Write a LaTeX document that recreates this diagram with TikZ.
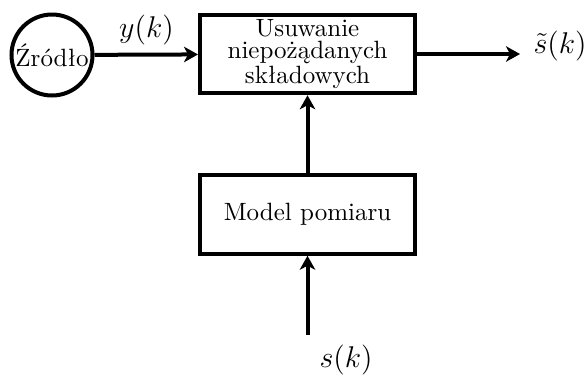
\documentclass[tikz,border=0pt]{standalone}
\usetikzlibrary{arrows.meta}
\begin{document}
\begin{tikzpicture}[x=0.4pt,y=-0.4pt,
  line width=1.6pt,
  blk/.style={draw, rectangle, minimum width=86pt, minimum height=31.4pt, inner sep=0pt, align=center, font=\fontsize{10}{9}\selectfont},
  src/.style={draw, circle, minimum size=32.4pt, inner sep=0pt},
  lbl/.style={inner sep=0pt, font=\large},
  conn/.style={-{Stealth[length=5.6pt,width=6.2pt,inset=1.6pt]}}]
\useasboundingbox (0,0) rectangle (587,375);
\node[src] (zr) at (52,55) {Źródło};
\node[blk] (us) at (307.5,54) {Usuwanie\\niepożądanych\\składowych};
\node[blk] (mp) at (307.5,214.5) {Model pomiaru};
\coordinate (out) at (520,54);
\coordinate (in) at (307.5,335);
\node[lbl] (ly) at (146.5,29.5) {$y(k)$};
\node[lbl] (ls) at (560,45.5) {$\tilde{s}(k)$};
\node[lbl] (lsk) at (346,359.5) {$s(k)$};
\draw[conn] (zr) -- (us);
\draw[conn] (us) -- (out);
\draw[conn] (mp) -- (us);
\draw[conn] (in) -- (mp);
\end{tikzpicture}
\end{document}
